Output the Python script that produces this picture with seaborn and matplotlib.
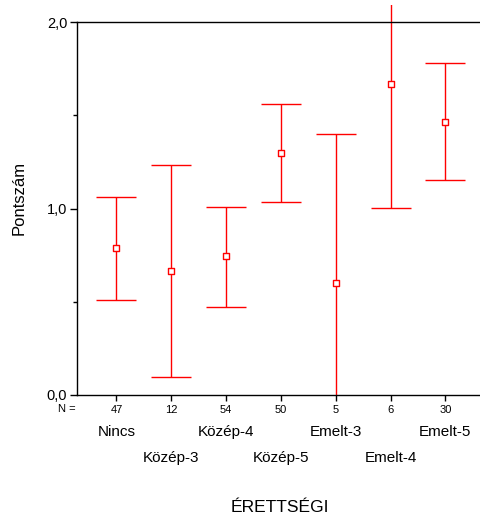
import matplotlib
matplotlib.use("Agg")
import matplotlib.pyplot as plt
import matplotlib.transforms as mtransforms
from matplotlib.patches import Rectangle
import seaborn as sns
import pandas as pd

categories = ["Nincs", "Közép-3", "Közép-4", "Közép-5", "Emelt-3", "Emelt-4", "Emelt-5"]
counts = [47, 12, 54, 50, 5, 6, 30]
means = [0.787, 0.667, 0.745, 1.299, 0.599, 1.668, 1.466]
lower = [0.509, 0.098, 0.474, 1.037, -0.20, 1.001, 1.153]
upper = [1.063, 1.235, 1.006, 1.560, 1.398, 2.335, 1.782]
yticks = [0.0, 1.0, 2.0]
ytick_labels = ["0,0", "1,0", "2,0"]

sns.set_theme(style="white")
plt.rcParams["font.family"] = ["Liberation Sans", "DejaVu Sans"]

fig = plt.figure(figsize=(4.8, 5.15), dpi=100)
ax = fig.add_axes([77/480, 1-395/515, 1.01-77/480, (395-22)/515])

df = pd.DataFrame({"cat": categories, "mean": means, "lo": lower, "hi": upper, "n": counts})
red = "#ff0000"

# SPSS-like frame clip: slightly above the plot top, at the plot bottom
clip = Rectangle((0, 0), 1, 1 + 17/373, transform=ax.transAxes, facecolor="none", edgecolor="none")
ax.add_patch(clip)

xs = list(range(len(categories)))
vl = ax.vlines(xs, df["lo"], df["hi"], color=red, lw=1.0, zorder=2)
vl.set_clip_path(clip)
hl1 = ax.hlines(df["hi"], [x - 0.365 for x in xs], [x + 0.365 for x in xs], color=red, lw=1.0, zorder=2)
hl1.set_clip_path(clip)
hl2 = ax.hlines(df["lo"], [x - 0.365 for x in xs], [x + 0.365 for x in xs], color=red, lw=1.0, zorder=2)
hl2.set_clip_path(clip)

sns.scatterplot(data=df, x="cat", y="mean", ax=ax, marker="s", s=22,
                facecolor="white", edgecolor=red, linewidth=1.0, zorder=3, legend=False)

ax.set_xlim(-0.72, 6.72)
ax.set_ylim(0, 2.0)
ax.set_yticks(yticks)
ax.set_yticklabels(ytick_labels, fontsize=10.5)
ax.set_yticks([0.5, 1.5], minor=True)
ax.set_xticks(xs)
ax.set_xticklabels([str(c) for c in counts], fontsize=8)

for s in ["left", "top", "bottom"]:
    ax.spines[s].set_visible(True)
    ax.spines[s].set_color("black")
    ax.spines[s].set_linewidth(1.0)
ax.spines["right"].set_visible(False)

ax.tick_params(axis="y", which="major", direction="out", length=5, width=1, left=True, colors="black", pad=2)
ax.tick_params(axis="y", which="minor", direction="out", length=3, width=1, left=True, colors="black")
ax.tick_params(axis="x", which="major", direction="out", length=4, width=1, bottom=True, colors="black", pad=3)

trans = mtransforms.blended_transform_factory(ax.transData, fig.transFigure)
for i, c in enumerate(categories):
    y = 1 - 432/515 if i % 2 == 0 else 1 - 458/515
    ax.text(i, y, c, transform=trans, ha="center", va="center", fontsize=11, color="black")

fig.text(76/480, 1-409/515, "N =", ha="right", va="center", fontsize=8, color="black")

ax.set_xlabel("")
ax.set_ylabel("")
fig.text(280/480, 1-508/515, "ÉRETTSÉGI", ha="center", va="center", fontsize=12.5, color="black")
fig.text(19/480, 1-198/515, "Pontszám", ha="center", va="center", rotation=90, fontsize=12, color="black")

fig.savefig("out.png", dpi=100)
